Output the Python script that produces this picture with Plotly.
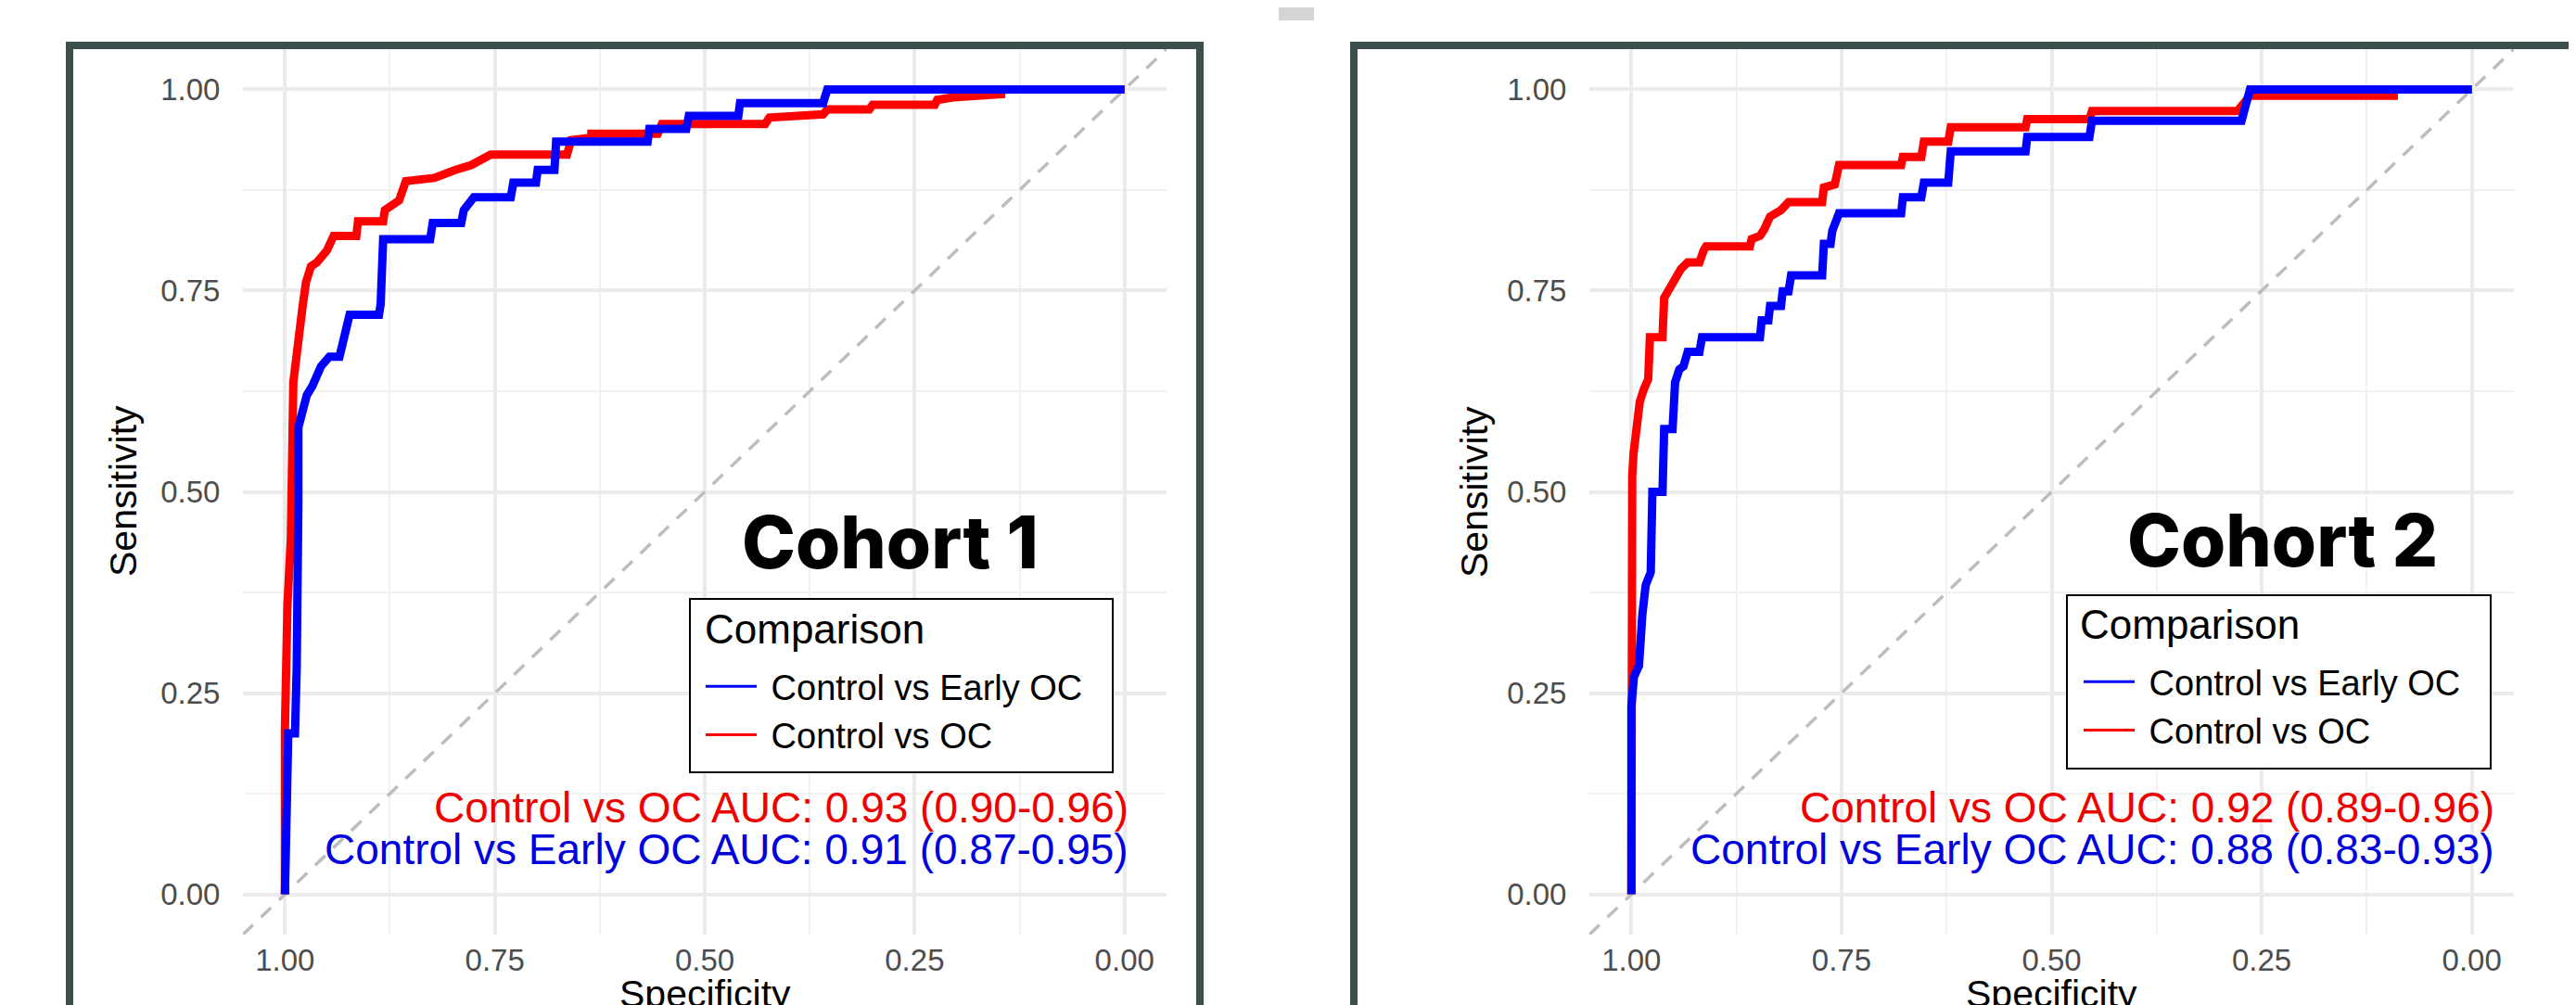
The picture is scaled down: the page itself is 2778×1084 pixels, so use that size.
import plotly.graph_objects as go

W, H = 2778, 1084

# ---------------- data (specificity, sensitivity vertices of ROC paths) ----------------
c1_oc_spec = [1.000, 1.000, 0.997, 0.993, 0.990, 0.984, 0.979, 0.975, 0.969, 0.962, 0.950, 0.942,
              0.915, 0.913, 0.883, 0.881, 0.864, 0.856, 0.822, 0.797, 0.778, 0.755, 0.664, 0.659,
              0.635, 0.635, 0.556, 0.551, 0.428, 0.423, 0.359, 0.354, 0.304, 0.300, 0.226, 0.223,
              0.204, 0.147, 0.147, 0.000]
c1_oc_sens = [0.000, 0.205, 0.360, 0.440, 0.636, 0.700, 0.730, 0.760, 0.780, 0.785, 0.800, 0.818,
              0.818, 0.836, 0.836, 0.850, 0.862, 0.886, 0.890, 0.900, 0.906, 0.919, 0.919, 0.937,
              0.940, 0.945, 0.945, 0.957, 0.957, 0.965, 0.969, 0.975, 0.975, 0.981, 0.981, 0.987,
              0.990, 0.994, 1.000, 1.000]

c1_early_spec = [1.000, 0.996, 0.988, 0.986, 0.984, 0.984, 0.974, 0.967, 0.957, 0.947, 0.935, 0.930,
                 0.923, 0.888, 0.886, 0.883, 0.827, 0.824, 0.790, 0.787, 0.775, 0.731, 0.728, 0.701,
                 0.699, 0.679, 0.677, 0.568, 0.566, 0.522, 0.519, 0.460, 0.458, 0.359, 0.354, 0.000]
c1_early_sens = [0.000, 0.200, 0.200, 0.280, 0.485, 0.580, 0.620, 0.632, 0.656, 0.668, 0.668, 0.689,
                 0.720, 0.720, 0.733, 0.814, 0.814, 0.834, 0.834, 0.850, 0.866, 0.866, 0.884, 0.884,
                 0.900, 0.900, 0.935, 0.935, 0.951, 0.951, 0.967, 0.967, 0.983, 0.983, 1.000, 1.000]

c2_oc_spec = [1.000, 1.000, 0.999, 0.9975, 0.995, 0.990, 0.985, 0.980, 0.978, 0.963, 0.961, 0.948,
              0.941, 0.933, 0.919, 0.914, 0.911, 0.859, 0.857, 0.847, 0.842, 0.835, 0.822, 0.813,
              0.773, 0.771, 0.758, 0.753, 0.679, 0.677, 0.655, 0.652, 0.623, 0.620, 0.531, 0.529,
              0.455, 0.452, 0.279, 0.264, 0.093, 0.093, 0.000]
c2_oc_sens = [0.000, 0.237, 0.519, 0.547, 0.571, 0.612, 0.628, 0.640, 0.692, 0.692, 0.741, 0.765,
              0.777, 0.785, 0.785, 0.800, 0.805, 0.805, 0.814, 0.818, 0.826, 0.842, 0.850, 0.860,
              0.860, 0.878, 0.882, 0.906, 0.906, 0.916, 0.916, 0.935, 0.935, 0.953, 0.953, 0.963,
              0.963, 0.973, 0.973, 0.992, 0.992, 1.000, 1.000]

c2_early_spec = [1.000, 1.000, 0.997, 0.991, 0.987, 0.983, 0.977, 0.975, 0.963, 0.961, 0.951, 0.948,
                 0.943, 0.938, 0.933, 0.919, 0.916, 0.847, 0.845, 0.837, 0.835, 0.822, 0.820, 0.813,
                 0.810, 0.773, 0.771, 0.763, 0.761, 0.753, 0.679, 0.677, 0.655, 0.652, 0.623, 0.620,
                 0.531, 0.529, 0.455, 0.452, 0.274, 0.269, 0.264, 0.000]
c2_early_sens = [0.000, 0.233, 0.270, 0.284, 0.347, 0.384, 0.400, 0.500, 0.500, 0.578, 0.578, 0.636,
                 0.652, 0.656, 0.674, 0.674, 0.692, 0.692, 0.713, 0.713, 0.731, 0.731, 0.749, 0.749,
                 0.769, 0.769, 0.808, 0.808, 0.824, 0.846, 0.846, 0.866, 0.866, 0.884, 0.884, 0.923,
                 0.923, 0.941, 0.941, 0.961, 0.961, 0.979, 1.000, 1.000]

series_names = ["Control vs Early OC", "Control vs OC"]
series_colors = ["#0000ff", "#ff0000"]
legend_title = "Comparison"
tick_vals = [0.0, 0.25, 0.50, 0.75, 1.0]
cohort_titles = ["Cohort 1", "Cohort 2"]
auc_labels_c1 = ["Control vs OC AUC: 0.93 (0.90-0.96)", "Control vs Early OC AUC: 0.91 (0.87-0.95)"]
auc_labels_c2 = ["Control vs OC AUC: 0.92 (0.89-0.96)", "Control vs Early OC AUC: 0.88 (0.83-0.93)"]

# ---------------- layout helpers ----------------
def px(x):
    return x / W


def py(y):
    return 1 - y / H


FONT = "Liberation Sans, Arial, sans-serif"
AX_RANGE_X = [1.05, -0.05]
AX_RANGE_Y = [-0.05, 1.05]
NB = "\u00a0"

fig = go.Figure()

panels = [
    dict(xa="x", ya="y", leg="legend", oc=(c1_oc_spec, c1_oc_sens), early=(c1_early_spec, c1_early_sens)),
    dict(xa="x2", ya="y2", leg="legend2", oc=(c2_oc_spec, c2_oc_sens), early=(c2_early_spec, c2_early_sens)),
]

for p in panels:
    # chance diagonal (sensitivity = 1 - specificity) across the whole panel
    dx = [AX_RANGE_X[0], AX_RANGE_X[1]]
    dy = [1 - v for v in dx]
    fig.add_trace(go.Scatter(x=dx, y=dy, mode="lines", xaxis=p["xa"], yaxis=p["ya"],
                             line=dict(color="#bdbdbd", width=3.5, dash="15px,12px"),
                             showlegend=False, hoverinfo="skip"))
    fig.add_trace(go.Scatter(x=p["oc"][0], y=p["oc"][1], mode="lines", xaxis=p["xa"], yaxis=p["ya"],
                             line=dict(color=series_colors[1], width=9), showlegend=False,
                             name=series_names[1]))
    fig.add_trace(go.Scatter(x=p["early"][0], y=p["early"][1], mode="lines", xaxis=p["xa"], yaxis=p["ya"],
                             line=dict(color=series_colors[0], width=9), showlegend=False,
                             name=series_names[0]))
    for name, col in zip(series_names, series_colors):
        fig.add_trace(go.Scatter(x=[None], y=[None], mode="lines", xaxis=p["xa"], yaxis=p["ya"],
                                 line=dict(color=col, width=3), name=NB + name + NB + NB,
                                 legend=p["leg"], showlegend=True))

axis_common = dict(
    tickvals=tick_vals, tickformat=".2f",
    tickfont=dict(family=FONT, size=33, color="#4d4d4d"),
    showgrid=True, gridcolor="#ebebeb", gridwidth=3.5,
    zeroline=False, showline=False,
    ticks="outside", tickcolor="rgba(0,0,0,0)",
    minor=dict(dtick=0.125, tick0=0, showgrid=True, gridcolor="#f1f1f1", gridwidth=2),
)

y_dom = [py(1000), py(45)]
fig.update_layout(
    xaxis=dict(domain=[px(254), px(1250)], range=AX_RANGE_X, anchor="y", ticklen=2,
               ticklabelstandoff=-4, **axis_common),
    yaxis=dict(domain=y_dom, range=AX_RANGE_Y, anchor="x", ticklen=17, **axis_common),
    xaxis2=dict(domain=[px(1706), px(2703)], range=AX_RANGE_X, anchor="y2", ticklen=2,
                ticklabelstandoff=-4, **axis_common),
    yaxis2=dict(domain=y_dom, range=AX_RANGE_Y, anchor="x2", ticklen=17, **axis_common),
)

legend_common = dict(
    xanchor="left", yanchor="top",
    bgcolor="rgba(0,0,0,0)", borderwidth=0,
    font=dict(family=FONT, size=38, color="black"),
    itemwidth=55, tracegroupgap=0,
)
fig.update_layout(
    legend=dict(x=px(748), y=py(701), **legend_common),
    legend2=dict(x=px(2234), y=py(696), **legend_common),
)

annotations = []
# legend titles (placed inside the legend boxes)
for lx, yc in [(750, 670), (2233, 665)]:
    annotations.append(dict(text=legend_title, x=px(lx), y=py(yc), xref="paper", yref="paper",
                            xanchor="left", yanchor="middle", showarrow=False,
                            font=dict(family=FONT, size=44, color="black")))
# axis titles
for xc, ylab_x in [((254 + 1250) / 2, 125), ((1706 + 2703) / 2, 1582)]:
    annotations.append(dict(text="Specificity", x=px(xc), y=py(1064), xref="paper", yref="paper",
                            xanchor="center", yanchor="middle", showarrow=False,
                            font=dict(family=FONT, size=41, color="black")))
    annotations.append(dict(text="Sensitivity", x=px(ylab_x), y=py(522), xref="paper", yref="paper",
                            xanchor="center", yanchor="middle", showarrow=False, textangle=-90,
                            font=dict(family=FONT, size=41, color="black")))
# AUC labels
for right_x, labels in [(1211, auc_labels_c1), (2684, auc_labels_c2)]:
    for lab, yc, col in zip(labels, [863, 908], ["#ee0000", "#0000dd"]):
        annotations.append(dict(text=lab, x=px(right_x), y=py(yc), xref="paper", yref="paper",
                                xanchor="right", yanchor="middle", showarrow=False,
                                font=dict(family=FONT, size=46, color=col)))
# cohort titles
for title, lx, yc in [(cohort_titles[0], 790, 576), (cohort_titles[1], 2284, 574)]:
    annotations.append(dict(text=title, x=px(lx), y=py(yc), xref="paper", yref="paper",
                            xanchor="left", yanchor="middle", showarrow=False,
                            font=dict(family="Inter, Open Sans, sans-serif", size=78, color="black",
                                      weight=800)))

FRAME = "#3c4f4d"
shapes = [
    dict(type="rect", xref="paper", yref="paper", x0=px(67), x1=px(1286), y0=py(1120), y1=py(41),
         line=dict(color=FRAME, width=8), fillcolor="rgba(0,0,0,0)", layer="above"),
    dict(type="rect", xref="paper", yref="paper", x0=px(1452), x1=px(2820), y0=py(1120), y1=py(41),
         line=dict(color=FRAME, width=8), fillcolor="rgba(0,0,0,0)", layer="above"),
    dict(type="rect", xref="paper", yref="paper", x0=px(1371), x1=px(1409), y0=py(14), y1=py(0),
         line=dict(width=0), fillcolor="#d4d4d4", layer="above"),
    # legend boxes
    dict(type="rect", xref="paper", yref="paper", x0=px(736), x1=px(1192), y0=py(825), y1=py(638),
         line=dict(color="black", width=2), fillcolor="white", layer="above"),
    dict(type="rect", xref="paper", yref="paper", x0=px(2221), x1=px(2678), y0=py(821), y1=py(634),
         line=dict(color="black", width=2), fillcolor="white", layer="above"),
]

fig.update_layout(
    width=W, height=H, autosize=False,
    margin=dict(l=0, r=0, t=0, b=0),
    paper_bgcolor="white", plot_bgcolor="white",
    annotations=annotations, shapes=shapes,
    font=dict(family=FONT),
)

fig.write_html("out.html")
